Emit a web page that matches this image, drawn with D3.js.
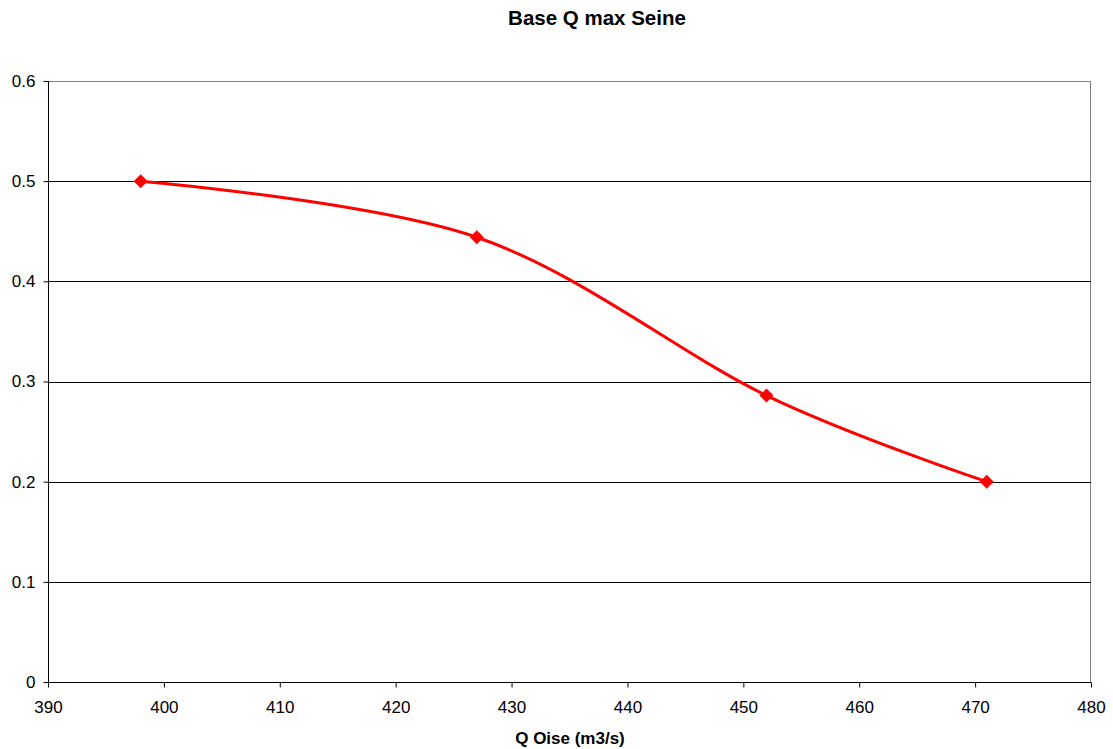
<!DOCTYPE html>
<html><head><meta charset="utf-8">
<script src="https://cdn.jsdelivr.net/npm/d3@7"></script>
<style>body{margin:0;background:#fff}svg{display:block;font-family:"Liberation Sans",Arial,sans-serif}</style>
</head><body>
<svg id="c" width="1113" height="749"></svg>
<script>
const qOise = [398, 427, 452, 471];
const baseQ = [0.5, 0.444, 0.286, 0.2];
const xTicks = [390, 400, 410, 420, 430, 440, 450, 460, 470, 480];
const yTicks = [0, 0.1, 0.2, 0.3, 0.4, 0.5, 0.6];

const svg = d3.select("#c");
const L = 48, R = 1091, T = 81, B = 682;
const x = d3.scaleLinear().domain([390, 480]).range([L, R]);
const y = d3.scaleLinear().domain([0, 0.6]).range([B, T]);

// frame (top/right gray)
svg.append("line").attr("x1", L).attr("x2", R).attr("y1", T + 0.5).attr("y2", T + 0.5).attr("stroke", "#808080");
svg.append("line").attr("x1", R - 0.5).attr("x2", R - 0.5).attr("y1", T).attr("y2", B).attr("stroke", "#808080");

// gridlines
svg.append("g").selectAll("line").data(yTicks.filter(d => d > 0 && d < 0.6)).join("line")
  .attr("x1", L).attr("x2", R)
  .attr("y1", d => Math.round(y(d)) + 0.5).attr("y2", d => Math.round(y(d)) + 0.5)
  .attr("stroke", "#000").attr("stroke-width", 1);

// y axis
const ya = svg.append("g").attr("transform", `translate(${L + 0.5},0)`)
  .call(d3.axisLeft(y).tickValues(yTicks).tickFormat(d => d === 0 ? "0" : d3.format(".1f")(d)).tickSize(5).tickPadding(8));
ya.select(".domain").attr("stroke", "#000").attr("d", `M0,${T}V${B}`);
ya.selectAll("text").attr("font-size", 17).attr("font-family", "Liberation Sans, Arial, sans-serif").attr("fill", "#000");

// x axis
const xa = svg.append("g").attr("transform", `translate(0,${B + 0.5})`)
  .call(d3.axisBottom(x).tickValues(xTicks).tickFormat(d3.format("d")).tickSize(5).tickPadding(13));
xa.select(".domain").attr("stroke", "#000").attr("d", `M${L},0H${R}`);
xa.selectAll("text").attr("font-size", 17).attr("font-family", "Liberation Sans, Arial, sans-serif").attr("fill", "#000");

// line
const pts = qOise.map((q, i) => [q, baseQ[i]]);
svg.append("path").datum(pts)
  .attr("d", d3.line().x(d => x(d[0])).y(d => y(d[1])).curve(d3.curveCardinal.tension(0)))
  .attr("fill", "none").attr("stroke", "#ff0000").attr("stroke-width", 3);

// markers
svg.append("g").selectAll("path").data(pts).join("path")
  .attr("transform", d => `translate(${x(d[0])},${y(d[1])})`)
  .attr("d", "M0,-7L7,0L0,7L-7,0Z").attr("fill", "#ff0000");

// titles
svg.append("text").attr("x", 597).attr("y", 25).attr("text-anchor", "middle")
  .attr("font-size", 20.5).attr("font-weight", "bold").text("Base Q max Seine");
svg.append("text").attr("x", 570).attr("y", 744).attr("text-anchor", "middle")
  .attr("font-size", 17).attr("font-weight", "bold").text("Q Oise (m3/s)");
</script>
</body></html>
